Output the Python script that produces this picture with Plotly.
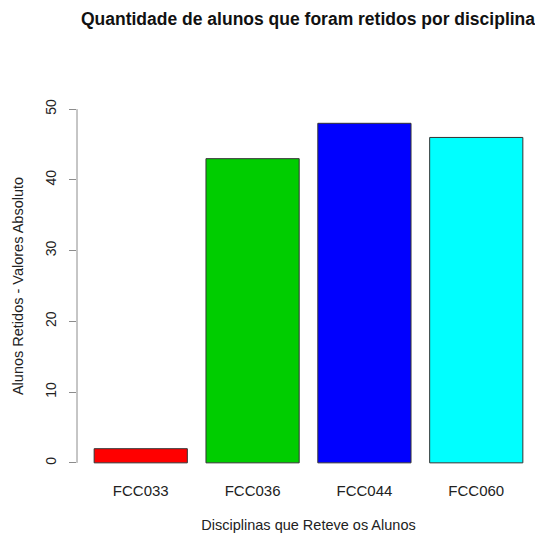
import plotly.graph_objects as go

categories = ["FCC033", "FCC036", "FCC044", "FCC060"]
values = [2, 43, 48, 46]
colors = ["#ff0000", "#00cd00", "#0000ff", "#00ffff"]
y_ticks = [0, 10, 20, 30, 40, 50]

title_text = "Quantidade de alunos que foram retidos por disciplina"
x_title = "Disciplinas que Reteve os Alunos"
y_title = "Alunos Retidos - Valores Absoluto"

font_family = "Liberation Sans, Arial, sans-serif"

# page body has an 8px margin, so the figure is sized to fill the rest
W, H = 535, 525

fig = go.Figure()
fig.add_trace(go.Bar(
    x=categories, y=values,
    marker=dict(color=colors, line=dict(color="#333333", width=1)),
    width=1/1.2,
))

fig.add_shape(type="line", xref="paper", yref="y", x0=0, x1=0,
              y0=min(y_ticks), y1=max(y_ticks),
              line=dict(color="#8c8c8c", width=1))

fig.update_layout(
    width=W, height=H,
    margin=dict(l=69, r=3, t=87, b=54),
    paper_bgcolor="white", plot_bgcolor="white",
    showlegend=False,
    font=dict(family=font_family, color="#222222"),
    title=dict(text="<b>" + title_text + "</b>", x=300/W, xanchor="center",
               y=1 - 11/H, yanchor="middle",
               font=dict(size=17.5, color="#111111")),
    xaxis=dict(
        range=[(0.016 - 0.7) / 1.2, (4.984 - 0.7) / 1.2],
        showline=False, showgrid=False, zeroline=False, ticks="",
        tickfont=dict(size=15), ticklabelstandoff=3,
        title=dict(text=x_title, font=dict(size=14.5), standoff=21),
    ),
    yaxis=dict(
        range=[-2, 52],
        tickvals=y_ticks,
        showline=False, showgrid=False, zeroline=False,
        ticks="outside", ticklen=7, tickcolor="#8c8c8c", tickwidth=1,
        tickangle=-90,
        tickfont=dict(size=14), ticklabelstandoff=7,
        title=dict(text=y_title, font=dict(size=14.5), standoff=16),
    ),
)

fig.write_html("out.html")
